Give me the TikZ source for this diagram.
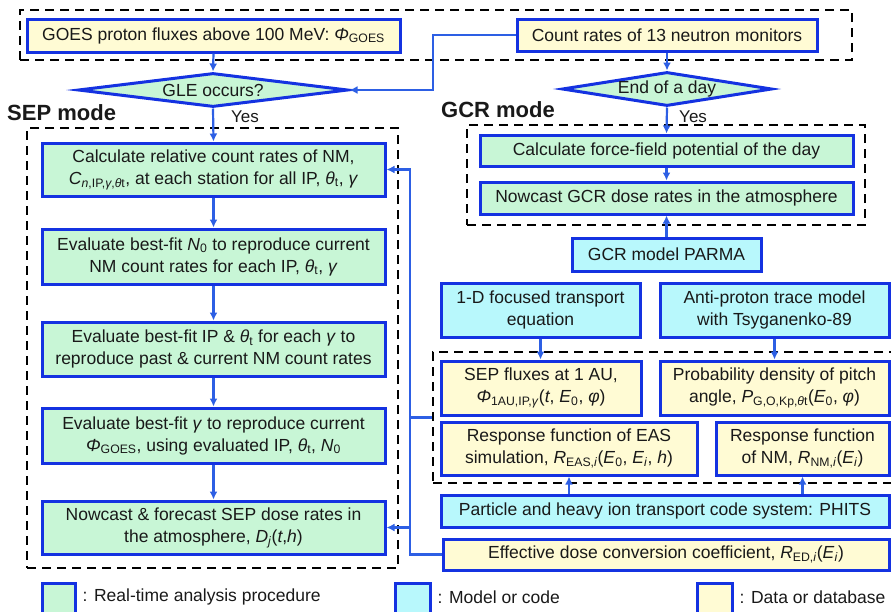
\documentclass[tikz,border=0pt]{standalone}
\usepackage{fontspec}
\setmainfont{Liberation Sans}
\usetikzlibrary{shapes.geometric,arrows.meta,positioning}
\definecolor{procgreen}{RGB}{200,246,214}
\definecolor{modelcyan}{RGB}{184,248,252}
\definecolor{datayellow}{RGB}{255,251,212}
\definecolor{boxblue}{RGB}{20,50,225}
\definecolor{lineblue}{RGB}{45,95,228}
\newcommand{\thT}{\textit{θ}\textsubscript{t}}
\newcommand{\sbs}[1]{\textsubscript{#1}}
\begin{document}
\begin{tikzpicture}[x=1pt,y=-1pt]
          \tikzstyle{every node}=[font=\fontsize{17.5}{22}\selectfont,text=black!90,align=center,inner sep=2pt];
          \tikzstyle{proc}=[draw=boxblue,line width=3pt,fill=procgreen];
          \tikzstyle{model}=[draw=boxblue,line width=3pt,fill=modelcyan];
          \tikzstyle{data}=[draw=boxblue,line width=3pt,fill=datayellow];
          \tikzstyle{cond}=[proc,shape=diamond,inner sep=0pt];
          \tikzstyle{frame}=[draw=black,line width=2.6pt,dash pattern=on 9pt off 6pt,inner sep=0pt];
          \tikzstyle{flow}=[draw=lineblue,line width=2.2pt];
          \tikzstyle{arr}=[flow,-{Latex[length=8pt,width=8pt]}];
          \useasboundingbox (0,0) rectangle (891,611);
          \clip (0,0) rectangle (891,611);
          %dashed groups
          \node[frame,minimum width=832pt,minimum height=50pt] (topframe) at (436,35) {};
          \node[frame,minimum width=371pt,minimum height=440pt] (sepframe) at (212.5,348) {};
          \node[frame,minimum width=398pt,minimum height=100pt] (gcrframe) at (666,175) {};
          \node[frame,minimum width=467pt,minimum height=131pt] (dataframe) at (666.5,417.5) {};
          %inputs
          \node[data,minimum width=373pt,minimum height=33pt] (goes) at (213.5,35.5) {GOES proton fluxes above 100 MeV: \textit{Φ}\sbs{GOES}};
          \node[data,minimum width=300pt,minimum height=32pt] (count) at (667,35) {Count rates of 13 neutron monitors};
          \node[cond,aspect=8,minimum width=270pt,minimum height=34pt] (gle) at (213,90) {GLE occurs?};
          \node[cond,aspect=6.4,minimum width=210pt,minimum height=34pt] (eod) at (667,89) {End of a day};
          \node[anchor=west,font=\fontsize{22}{26}\selectfont\bfseries] (sepmode) at (5,113) {SEP mode};
          \node[anchor=west,font=\fontsize{22}{26}\selectfont\bfseries] (gcrmode) at (439,110) {GCR mode};
          \node[anchor=west,font=\fontsize{17}{20}\selectfont] (sepyes) at (229,117) {Yes};
          \node[anchor=west,font=\fontsize{17}{20}\selectfont] (gcryes) at (677,117) {Yes};
          %SEP mode
          \node[proc,minimum width=343pt,minimum height=53pt] (c1) at (213.5,169.5) {Calculate relative count rates of NM,\\\textit{C}\sbs{\textit{n},IP,\textit{γ},\textit{θ}t}, at each station for all IP, \thT, \textit{γ}};
          \node[proc,minimum width=343pt,minimum height=55pt] (c2) at (213.5,256.5) {Evaluate best-fit \textit{N}\sbs{0} to reproduce current\\NM count rates for each IP, \thT, \textit{γ}};
          \node[proc,minimum width=343pt,minimum height=54pt] (c3) at (213.5,349) {Evaluate best-fit IP \& \thT\ for each \textit{γ} to\\reproduce past \& current NM count rates};
          \node[proc,minimum width=343pt,minimum height=55pt] (c4) at (213.5,435.5) {Evaluate best-fit \textit{γ} to reproduce current\\\textit{Φ}\sbs{GOES}, using evaluated IP, \thT, \textit{N}\sbs{0}};
          \node[proc,minimum width=343pt,minimum height=53pt] (c5) at (213.5,527.5) {Nowcast \& forecast SEP dose rates in\\the atmosphere, \textit{D}\sbs{\textit{j}}(\textit{t},\textit{h})};
          %GCR mode
          \node[proc,minimum width=373pt,minimum height=31pt] (ff) at (666.5,150.5) {Calculate force-field potential of the day};
          \node[proc,minimum width=373pt,minimum height=32pt] (gcrnow) at (666.5,198) {Nowcast GCR dose rates in the atmosphere};
          \node[model,minimum width=189pt,minimum height=33pt] (parma) at (666.5,254.5) {GCR model PARMA};
          %models and data
          \node[model,minimum width=199pt,minimum height=54pt] (transp) at (540.5,310) {1-D focused transport\\equation};
          \node[model,minimum width=229pt,minimum height=54pt] (antip) at (774.5,310) {Anti-proton trace model\\with Tsyganenko-89};
          \node[data,minimum width=200pt,minimum height=54pt] (sepflux) at (541,388) {SEP fluxes at 1 AU,\\\textit{Φ}\sbs{1AU,IP,\textit{γ}}(\textit{t}, \textit{E}\sbs{0}, \textit{φ})};
          \node[data,minimum width=229pt,minimum height=54pt] (pitch) at (774.5,388) {Probability density of pitch\\angle, \textit{P}\sbs{G,O,Kp,\textit{θ}t}(\textit{E}\sbs{0}, \textit{φ})};
          \node[data,minimum width=256pt,minimum height=53pt] (reas) at (569,448.5) {Response function of EAS\\simulation, \textit{R}\sbs{EAS,\textit{i}}(\textit{E}\sbs{0}, \textit{E}\sbs{\textit{i}}, \textit{h})};
          \node[data,minimum width=173pt,minimum height=53pt] (rnm) at (802.5,448.5) {Response function\\of NM, \textit{R}\sbs{NM,\textit{i}}(\textit{E}\sbs{\textit{i}})};
          \node[model,minimum width=448pt,minimum height=32pt] (phits) at (665,511) {Particle and heavy ion transport code system: PHITS};
          \node[data,minimum width=446pt,minimum height=31pt] (ed) at (666,554.5) {Effective dose conversion coefficient, \textit{R}\sbs{ED,\textit{i}}(\textit{E}\sbs{\textit{i}})};
          %legend
          \node[proc,minimum width=33pt,minimum height=34pt] (legproc) at (58.5,600) {};
          \node[right=4pt of legproc,yshift=3pt] (legproctext) {: Real-time analysis procedure};
          \node[model,minimum width=35pt,minimum height=34pt] (legmodel) at (412.5,600) {};
          \node[right=4pt of legmodel,yshift=3pt] (legmodeltext) {: Model or code};
          \node[data,minimum width=35pt,minimum height=34pt] (legdata) at (714.5,600) {};
          \node[right=4pt of legdata,yshift=3pt] (legdatatext) {: Data or database};
          %connectors
          \coordinate (crbend) at (433,90);
          \coordinate (busx) at (410,0);
          \draw[arr] (goes.south) -- (gle.north);
          \draw[arr] (count.west) -| (crbend) -- (gle.east);
          \draw[arr] (gle.south) -- (c1.north);
          \draw[arr] (c1.south) -- (c2.north);
          \draw[arr] (c2.south) -- (c3.north);
          \draw[arr] (c3.south) -- (c4.north);
          \draw[arr] (c4.south) -- (c5.north);
          \draw[arr] (count.south) -- (eod.north);
          \draw[arr] (eod.south) -- (ff.north);
          \draw[arr] (ff.south) -- (gcrnow.north);
          \draw[arr] (parma.north) -- (gcrnow.south);
          \draw[arr] (transp.south) -- (transp.south |- sepflux.north);
          \draw[arr] (antip.south) -- (antip.south |- pitch.north);
          \draw[arr] (phits.north -| reas) -- (reas.south);
          \draw[arr] (phits.north -| rnm) -- (rnm.south);
          \draw[arr] (ed.west) -| (busx |- c1.east) -- (c1.east);
          \draw[flow] (busx |- dataframe.west) -- (dataframe.west);
          \draw[arr] (busx |- c5.east) -- (c5.east);
      \end{tikzpicture}
\end{document}
